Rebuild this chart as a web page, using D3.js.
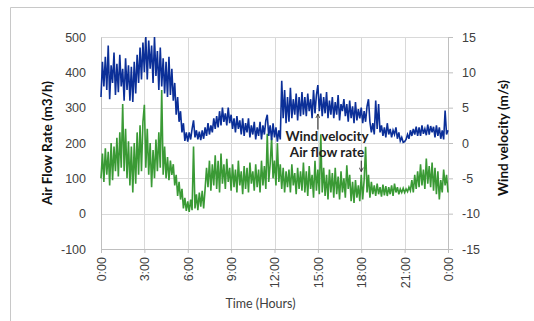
<!DOCTYPE html>
<html>
<head>
<meta charset="utf-8">
<script src="https://cdn.jsdelivr.net/npm/d3@7"></script>
<style>
  body { margin: 0; background: #fff; }
  svg { display: block; font-family: Lato, "Open Sans", sans-serif; }
</style>
</head>
<body>
<div id="chart"></div>
<script>
// readings every 0.1 hour, 0:00 to 24:00
const step = 0.1;

// wind velocity (m/s), right axis
const windVelocity = [
  6.5, 11.5, 8.0, 12.2, 7.5, 13.8, 6.2, 11.0, 8.5, 12.8,
  6.8, 11.2, 7.2, 12.5, 8.0, 10.5, 6.0, 12.0, 7.5, 11.0,
  6.0, 10.8, 5.8, 11.5, 7.0, 12.5, 8.5, 13.5, 9.0, 14.2,
  10.0, 15.0, 9.0, 14.5, 10.5, 13.8, 8.5, 15.0, 9.5, 13.0,
  7.5, 13.5, 8.0, 12.0, 7.0, 11.5, 6.5, 12.2, 6.8, 10.5,
  6.0, 8.5, 4.0, 6.5, 3.0, 4.5, 1.5, 2.8, 0.3, 1.5,
  0.2, 1.5, 0.5, 2.0, 3.2, 0.8, 1.8, 0.5, 1.6, 0.4,
  1.8, 0.6, 2.2, 1.0, 2.8, 1.2, 2.5, 1.5, 3.5, 2.0,
  3.8, 2.2, 4.5, 2.5, 5.0, 3.0, 4.2, 2.5, 5.0, 2.8,
  4.0, 2.0, 3.5, 1.5, 3.8, 2.0, 3.2, 1.2, 3.5, 1.0,
  2.8, 1.5, 3.5, 0.8, 2.5, 1.2, 3.0, 0.5, 2.2, 1.0,
  3.0, 0.5, 2.5, 1.2, 3.2, 4.0, 1.0, 2.5, 0.4, 2.8,
  0.8, 2.2, 0.2, 1.8, 0.5, 8.8, 3.5, 7.5, 2.8, 6.5,
  3.0, 7.8, 3.5, 6.2, 4.0, 7.0, 3.2, 6.5, 3.8, 7.2,
  4.0, 6.5, 3.8, 7.0, 4.5, 6.2, 3.5, 7.5, 4.2, 6.8,
  8.2, 4.5, 7.0, 3.8, 6.5, 4.2, 7.2, 3.5, 6.0, 4.0,
  6.5, 3.5, 5.8, 4.0, 6.8, 3.2, 5.5, 4.5, 6.2, 3.8,
  5.5, 3.0, 6.0, 3.5, 5.2, 2.8, 5.8, 3.2, 4.8, 3.5,
  5.0, 2.8, 4.5, 3.0, 5.2, 6.2, 3.0, 1.5, 2.8, 1.2,
  6.0, 2.0, 5.5, 1.5, 2.5, 1.0, 2.2, 0.8, 2.8, 1.2,
  2.0, 0.8, 1.8, 1.2, 2.2, 0.6, 1.5, 0.3, 0.8, 0.1,
  0.2, 0.5, 1.2, 0.6, 1.8, 1.0, 2.0, 1.2, 2.3, 1.0,
  2.2, 1.0, 2.5, 1.3, 2.0, 1.1, 2.6, 1.2, 2.4, 1.5,
  2.3, 0.8, 2.5, 1.0, 2.2, 0.6, 1.8, 0.5, 4.6, 1.2,
  1.8
];

// air flow rate (m3/h), left axis
const airFlowRate = [
  100, 170, 90, 185, 110, 175, 80, 200, 95, 190,
  120, 215, 105, 230, 130, 310, 120, 240, 100, 205,
  80, 190, 60, 200, 85, 230, 110, 250, 120, 260,
  308, 130, 240, 110, 200, 75, 180, 100, 210, 120,
  230, 130, 350, 110, 190, 100, 160, 95, 150, 110,
  140, 80, 110, 50, 90, 40, 70, 15, 45, 8,
  35, 5, 40, 10, 190, 15, 55, 10, 60, 20,
  65, 15, 70, 130, 75, 150, 65, 140, 80, 165,
  70, 150, 60, 170, 85, 140, 70, 155, 90, 130,
  65, 140, 75, 125, 60, 150, 80, 120, 55, 135,
  70, 130, 60, 145, 85, 120, 65, 140, 75, 125,
  60, 150, 80, 135, 70, 226, 90, 140, 215, 100,
  150, 80, 200, 90, 140, 70, 130, 60, 120, 75,
  125, 60, 140, 80, 115, 55, 130, 70, 120, 65,
  145, 60, 120, 50, 135, 70, 110, 45, 150, 65,
  125, 55, 225, 60, 130, 50, 110, 40, 125, 60,
  115, 45, 130, 55, 105, 40, 120, 60, 100, 45,
  137, 70, 110, 35, 90, 30, 95, 45, 80, 35,
  110, 40, 95, 189, 60, 110, 45, 90, 55, 80,
  50, 85, 55, 75, 48, 82, 52, 78, 50, 75,
  55, 80, 50, 85, 60, 75, 55, 70, 60, 72,
  60, 70, 62, 75, 65, 95, 60, 110, 70, 120,
  75, 140, 80, 125, 70, 156, 85, 135, 75, 145,
  65, 130, 55, 120, 40, 95, 60, 125, 80, 110,
  60
];

const tickHours = [0, 3, 6, 9, 12, 15, 18, 21, 24];
const tickLabels = ["0:00", "3:00", "6:00", "9:00", "12:00", "15:00", "18:00", "21:00", "0:00"];
const leftTicks = [-100, 0, 100, 200, 300, 400, 500];
const rightTicks = [-15, -10, -5, 0, 5, 10, 15];

const width = 534;
const height = 321;
const margin = {top: 37, right: 86, bottom: 72, left: 101};
const gridColor = "#d9d9d9";
const textColor = "#404040";

const svg = d3.select("#chart")
  .append("svg")
  .attr("width", width)
  .attr("height", height);

// frame of the figure
svg.append("path")
  .attr("d", `M10.5,${height} V7.5 H${width}`)
  .attr("fill", "none")
  .attr("stroke", "#c8c8c8");

const x = d3.scaleLinear()
  .domain([0, 24])
  .range([margin.left, width - margin.right]);

const yLeft = d3.scaleLinear()
  .domain([-100, 500])
  .range([height - margin.bottom, margin.top]);

const yRight = d3.scaleLinear()
  .domain([-15, 15])
  .range([height - margin.bottom, margin.top]);

// horizontal grid
svg.append("g")
  .selectAll("line")
  .data(leftTicks)
  .enter()
  .append("line")
  .attr("x1", x(0))
  .attr("x2", x(24))
  .attr("y1", d => Math.round(yLeft(d)) + 0.5)
  .attr("y2", d => Math.round(yLeft(d)) + 0.5)
  .attr("stroke", gridColor);

// vertical grid
svg.append("g")
  .selectAll("line")
  .data(tickHours)
  .enter()
  .append("line")
  .attr("x1", d => Math.round(x(d)) + 0.5)
  .attr("x2", d => Math.round(x(d)) + 0.5)
  .attr("y1", yLeft(500))
  .attr("y2", yLeft(-100))
  .attr("stroke", gridColor);

// left axis (plain hyphen for negatives, as in the original)
const leftAxis = d3.axisLeft(yLeft).tickValues(leftTicks).tickFormat(d => String(d)).tickSize(0).tickPadding(15);
svg.append("g")
  .attr("transform", `translate(${x(0)},0)`)
  .call(leftAxis)
  .call(g => g.select(".domain").attr("stroke", "#bfbfbf"))
  .selectAll("text")
  .attr("font-size", 12.5)
  .attr("fill", textColor);

// right axis
const rightAxis = d3.axisRight(yRight).tickValues(rightTicks).tickFormat(d => String(d)).tickSize(5).tickPadding(9);
svg.append("g")
  .attr("transform", `translate(${x(24)},0)`)
  .call(rightAxis)
  .call(g => g.select(".domain").attr("stroke", "#bfbfbf"))
  .call(g => g.selectAll(".tick line").attr("stroke", "#bfbfbf"))
  .selectAll("text")
  .attr("font-size", 12.5)
  .attr("fill", textColor);

// time axis with rotated labels
const xAxis = d3.axisBottom(x)
  .tickValues(tickHours)
  .tickFormat((d, i) => tickLabels[i])
  .tickSize(4)
  .tickSizeOuter(0);
svg.append("g")
  .attr("transform", `translate(0,${yLeft(-100)})`)
  .call(xAxis)
  .call(g => g.select(".domain").attr("stroke", "#bfbfbf"))
  .call(g => g.selectAll(".tick line").attr("stroke", "#bfbfbf"))
  .selectAll("text")
  .attr("font-size", 12.5)
  .attr("fill", textColor)
  .attr("transform", "rotate(-90)")
  .attr("text-anchor", "end")
  .attr("dy", "0.35em")
  .attr("x", -8)
  .attr("y", 0);

// series lines
const lineWind = d3.line()
  .x((d, i) => x(i * step))
  .y(d => yRight(d));

const lineFlow = d3.line()
  .x((d, i) => x(i * step))
  .y(d => yLeft(d));

svg.append("path")
  .datum(airFlowRate)
  .attr("d", lineFlow)
  .attr("fill", "none")
  .attr("stroke", "#3a9a35")
  .attr("stroke-width", 1.6);

svg.append("path")
  .datum(windVelocity)
  .attr("d", lineWind)
  .attr("fill", "none")
  .attr("stroke", "#0b2f98")
  .attr("stroke-width", 1.6);

// annotations
svg.append("text")
  .attr("x", 327)
  .attr("y", 140.5)
  .attr("text-anchor", "middle")
  .attr("font-size", 13.5)
  .attr("font-weight", "bold")
  .attr("fill", "#222")
  .text("Wind velocity");

svg.append("text")
  .attr("x", 327)
  .attr("y", 157)
  .attr("text-anchor", "middle")
  .attr("font-size", 13.5)
  .attr("font-weight", "bold")
  .attr("fill", "#222")
  .text("Air flow rate");

svg.append("defs")
  .append("marker")
  .attr("id", "head")
  .attr("viewBox", "0 0 10 10")
  .attr("refX", 9)
  .attr("refY", 5)
  .attr("markerWidth", 5)
  .attr("markerHeight", 5)
  .attr("orient", "auto")
  .append("path")
  .attr("d", "M1,1 L9,5 L1,9")
  .attr("fill", "none")
  .attr("stroke", "#222")
  .attr("stroke-width", 1.5);

svg.append("line")
  .attr("x1", x(15)).attr("x2", x(15))
  .attr("y1", yRight(1.9)).attr("y2", yRight(4.1))
  .attr("stroke", "#222")
  .attr("marker-end", "url(#head)");

svg.append("line")
  .attr("x1", x(18)).attr("x2", x(18))
  .attr("y1", yLeft(150)).attr("y2", yLeft(119))
  .attr("stroke", "#222")
  .attr("marker-end", "url(#head)");

// axis titles
svg.append("text")
  .attr("transform", `translate(52,${yLeft(200)}) rotate(-90)`)
  .attr("text-anchor", "middle")
  .attr("font-size", 13.5)
  .attr("font-weight", "bold")
  .attr("fill", "#111")
  .text("Air Flow Rate (m3/h)");

svg.append("text")
  .attr("transform", `translate(508,${yRight(0.7)}) rotate(-90)`)
  .attr("text-anchor", "middle")
  .attr("font-size", 13.5)
  .attr("font-weight", "bold")
  .attr("fill", "#111")
  .text("Wind velocity (m/s)");

svg.append("text")
  .attr("x", x(12) - 14)
  .attr("y", 308)
  .attr("text-anchor", "middle")
  .attr("font-size", 12.5)
  .attr("fill", textColor)
  .text("Time (Hours)");
</script>
</body>
</html>
